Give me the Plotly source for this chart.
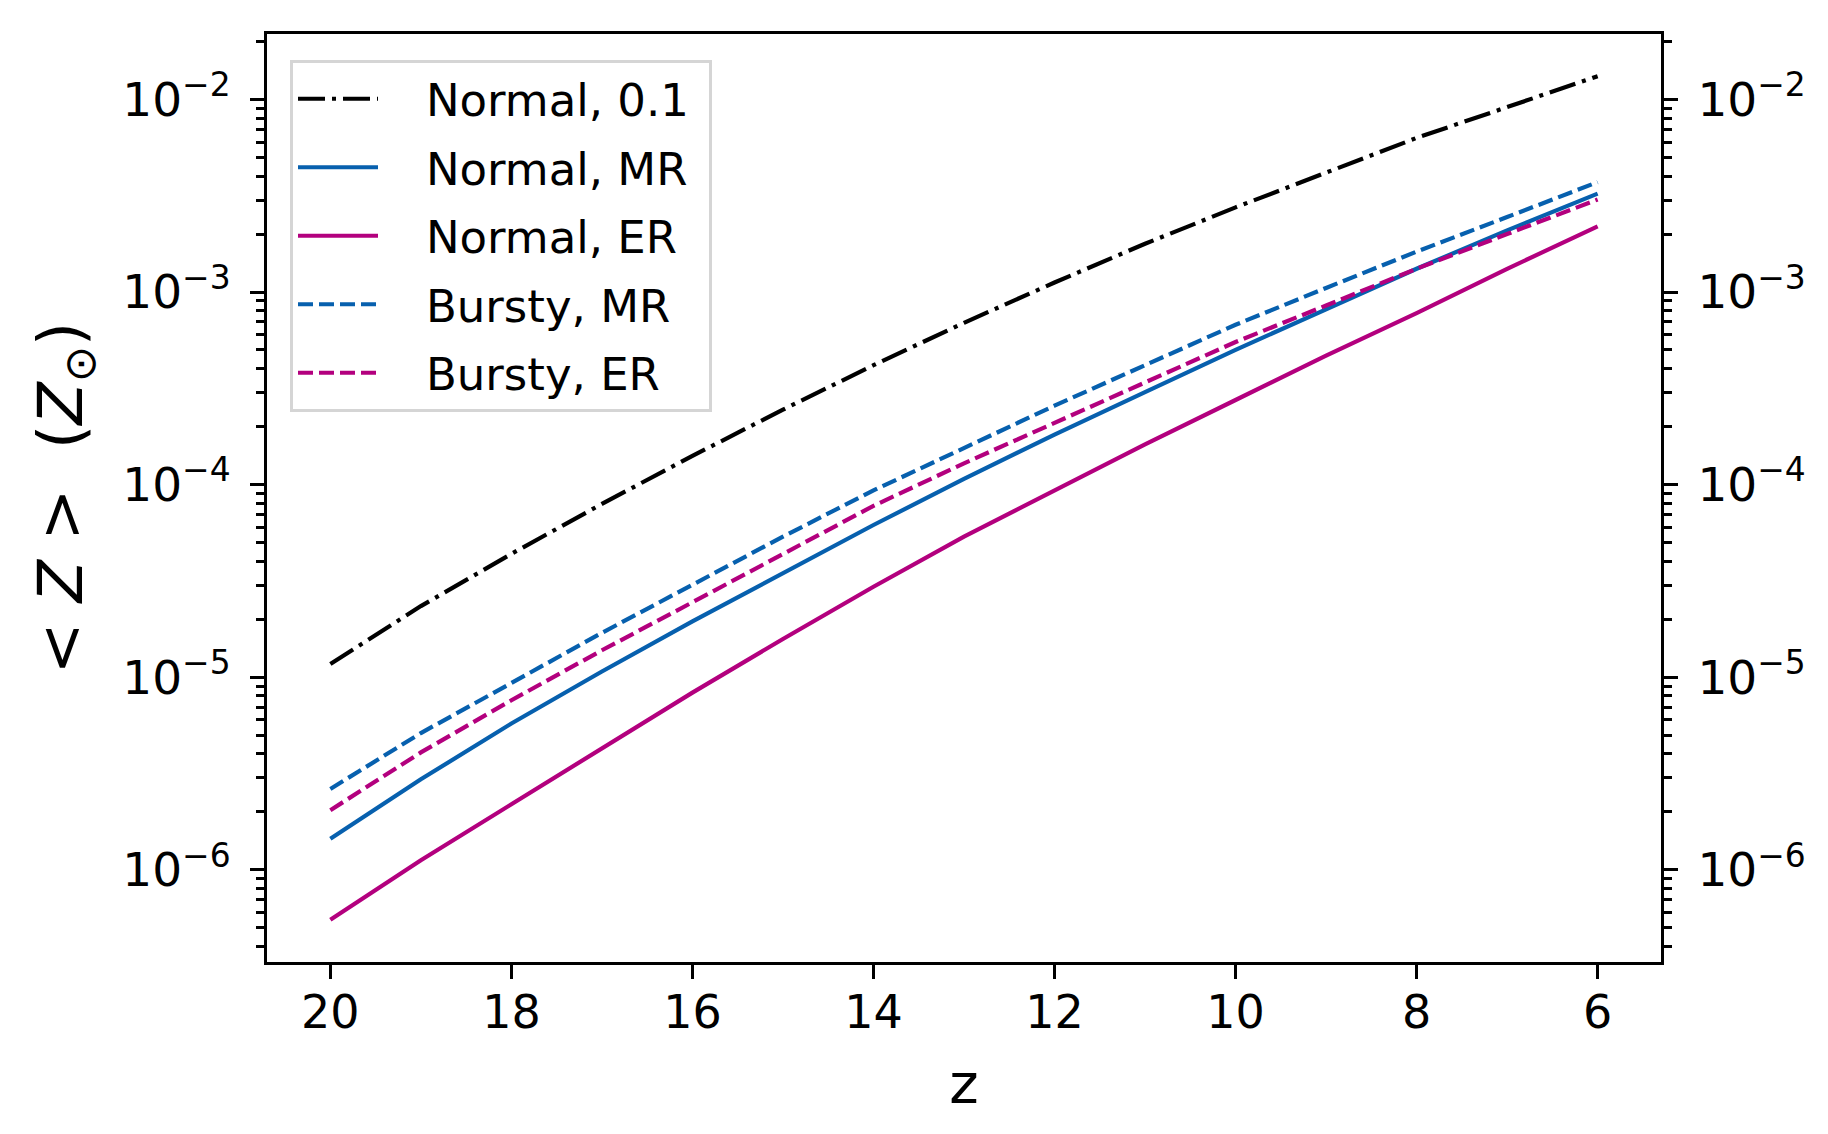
import numpy as np
import plotly.graph_objects as go

# Redshift grid
z = [20, 19, 18, 17, 16, 15, 14, 13, 12, 11, 10, 9, 8, 7, 6]

# Mean metallicity <Z> in solar units
normal_01 = [1.17e-5, 2.34e-5, 4.37e-5, 7.94e-5, 1.41e-4, 2.45e-4, 4.17e-4, 6.92e-4,
             1.12e-3, 1.78e-3, 2.75e-3, 4.17e-3, 6.31e-3, 9.12e-3, 1.32e-2]
normal_mr = [1.45e-6, 2.95e-6, 5.75e-6, 1.07e-5, 1.95e-5, 3.47e-5, 6.17e-5, 1.07e-4,
             1.82e-4, 3.02e-4, 5.01e-4, 8.13e-4, 1.32e-3, 2.09e-3, 3.24e-3]
normal_er = [5.50e-7, 1.12e-6, 2.19e-6, 4.27e-6, 8.32e-6, 1.58e-5, 2.95e-5, 5.37e-5,
             9.33e-5, 1.62e-4, 2.75e-4, 4.68e-4, 7.76e-4, 1.32e-3, 2.19e-3]
bursty_mr = [2.63e-6, 5.13e-6, 9.33e-6, 1.70e-5, 3.02e-5, 5.37e-5, 9.33e-5, 1.55e-4,
             2.57e-4, 4.17e-4, 6.76e-4, 1.05e-3, 1.62e-3, 2.45e-3, 3.72e-3]
bursty_er = [2.04e-6, 4.07e-6, 7.59e-6, 1.38e-5, 2.45e-5, 4.37e-5, 7.76e-5, 1.29e-4,
             2.09e-4, 3.39e-4, 5.50e-4, 8.51e-4, 1.32e-3, 2.00e-3, 3.02e-3]

names = ["Normal, 0.1", "Normal, MR", "Normal, ER", "Bursty, MR", "Bursty, ER"]
x_ticks = [20, 18, 16, 14, 12, 10, 8, 6]
y_tick_exps = [-6, -5, -4, -3, -2]

BLUE = "#0760AE"
MAG = "#B3007E"
FONT = "DejaVu Sans"
LW = 4.2
PAD = "\u00a0\u00a0\u00a0"

series = [
    (normal_01, names[0], "black", "27px,7px,4px,7px"),
    (normal_mr, names[1], BLUE, "solid"),
    (normal_er, names[2], MAG, "solid"),
    (bursty_mr, names[3], BLUE, "15px,6px"),
    (bursty_er, names[4], MAG, "15px,6px"),
]

fig = go.Figure()
for i, (ys, nm, col, dash) in enumerate(series):
    fig.add_trace(go.Scatter(x=z, y=ys, name=PAD + nm + "\u00a0", mode="lines",
                             legendgroup="g%d" % i,
                             line=dict(color=col, width=LW, dash=dash)))

# invisible copy so the right-hand (twin) axis gets drawn
fig.add_trace(go.Scatter(x=z, y=normal_01, yaxis="y2", mode="lines",
                         line=dict(color="rgba(0,0,0,0)", width=0),
                         showlegend=False, hoverinfo="skip"))

# axis ranges with matplotlib-like 5% margins
allv = np.log10(np.concatenate([normal_01, normal_mr, normal_er, bursty_mr, bursty_er]))
lo, hi = allv.min(), allv.max()
m = 0.05 * (hi - lo)
yr = [lo - m, hi + m]
xm = 0.05 * (max(z) - min(z))
xr = [max(z) + xm, min(z) - xm]

tickvals = [10.0 ** e for e in y_tick_exps]
ticktext = ["10<sup>\u2212%d</sup>" % (-e) for e in y_tick_exps]
minor_vals = [k * 10.0 ** e for e in range(-7, -1) for k in range(2, 10)]

yax_common = dict(
    type="log", range=yr, tickmode="array", tickvals=tickvals, ticktext=ticktext,
    ticks="outside", ticklen=14, tickwidth=3, tickcolor="black",
    showline=True, linecolor="black", linewidth=3, showgrid=False, zeroline=False,
    tickfont=dict(family=FONT, size=47, color="black"), ticklabelstandoff=10,
    minor=dict(tickmode="array", tickvals=minor_vals, ticks="outside", ticklen=8,
               tickwidth=2.5, tickcolor="black", showgrid=False),
)

fig.update_layout(
    width=1828, height=1134,
    margin=dict(l=259, r=175, t=26, b=180),
    plot_bgcolor="white", paper_bgcolor="white",
    font=dict(family=FONT, color="black"),
    showlegend=True,
    legend=dict(x=0.0165, y=0.972, xanchor="left", yanchor="top",
                bgcolor="rgba(255,255,255,0.8)", bordercolor="#d5d5d5", borderwidth=3,
                font=dict(family=FONT, size=45, color="black"),
                itemwidth=80, tracegroupgap=7),
    xaxis=dict(range=xr, tickmode="array", tickvals=x_ticks,
               ticks="outside", ticklen=14, tickwidth=3, tickcolor="black",
               showline=True, linecolor="black", linewidth=3, mirror=True,
               showgrid=False, zeroline=False, ticklabelstandoff=-6,
               tickfont=dict(family=FONT, size=46, color="black"),
               title=dict(text="z", font=dict(family=FONT, size=56, color="black"),
                          standoff=26)),
    yaxis=dict(**yax_common,
               title=dict(text="&lt; <i>Z</i> &gt;  (<i>Z</i><sub>\u2299</sub>)",
                          font=dict(family=FONT, size=62, color="black"), standoff=20)),
    yaxis2=dict(**yax_common, overlaying="y", side="right", anchor="x"),
)

fig.write_html("out.html")
